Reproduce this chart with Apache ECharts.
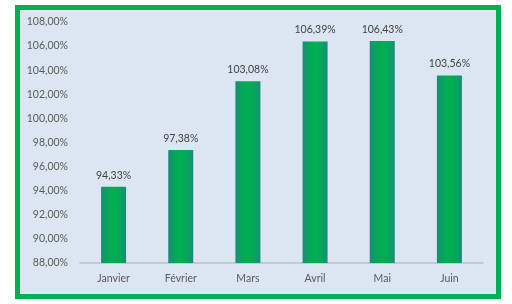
<!DOCTYPE html>
<html><head><meta charset="utf-8">
<script src="https://cdn.jsdelivr.net/npm/echarts@6/dist/echarts.min.js"></script>
<style>html,body{margin:0;padding:0;background:#fff}#c{width:512px;height:304px}</style>
</head><body><div id="c"></div>
<script>
var categories = ["Janvier", "Février", "Mars", "Avril", "Mai", "Juin"];
var values = [94.33, 97.38, 103.08, 106.39, 106.43, 103.56];
var yMin = 88, yMax = 108, yStep = 2;

function fmt(v){ return v.toFixed(2).replace('.', ',') + '%'; }
var font = 'Lato';
var chart = echarts.init(document.getElementById('c'));
chart.setOption({
  backgroundColor: '#ffffff',
  animation: false,
  graphic: [{
    type: 'rect', z: -10, silent: true,
    shape: {x: 17.5, y: 7.5, width: 481, height: 289},
    style: {fill: '#dce6f2', stroke: '#00b050', lineWidth: 5}
  }],
  grid: {left: 80, right: 29, top: 22, bottom: 41},
  xAxis: {
    type: 'category', data: categories,
    axisLine: {lineStyle: {color: '#bfbfbf', width: 1.5}},
    axisTick: {show: false},
    axisLabel: {color: '#595959', fontFamily: font, fontSize: 10.5, margin: 10}
  },
  yAxis: {
    type: 'value', min: yMin, max: yMax, interval: yStep,
    axisLine: {show: false}, axisTick: {show: false},
    splitLine: {show: false},
    axisLabel: {color: '#595959', fontFamily: font, fontSize: 10.5, margin: 12,
      formatter: function(v){ return fmt(v); }}
  },
  series: [{
    type: 'bar', data: values, barWidth: 25,
    itemStyle: {color: new echarts.graphic.LinearGradient(0, 0, 1, 0, [
      {offset: 0, color: '#1a8c7a'},
      {offset: 0.25, color: '#06a65a'},
      {offset: 0.5, color: '#00b050'},
      {offset: 0.75, color: '#06a65a'},
      {offset: 1, color: '#1a8c7a'}
    ])},
    label: {show: true, position: 'top', distance: 6, color: '#404040',
      fontFamily: font, fontSize: 10.5,
      formatter: function(p){ return fmt(p.value); }}
  }]
});
</script></body></html>
